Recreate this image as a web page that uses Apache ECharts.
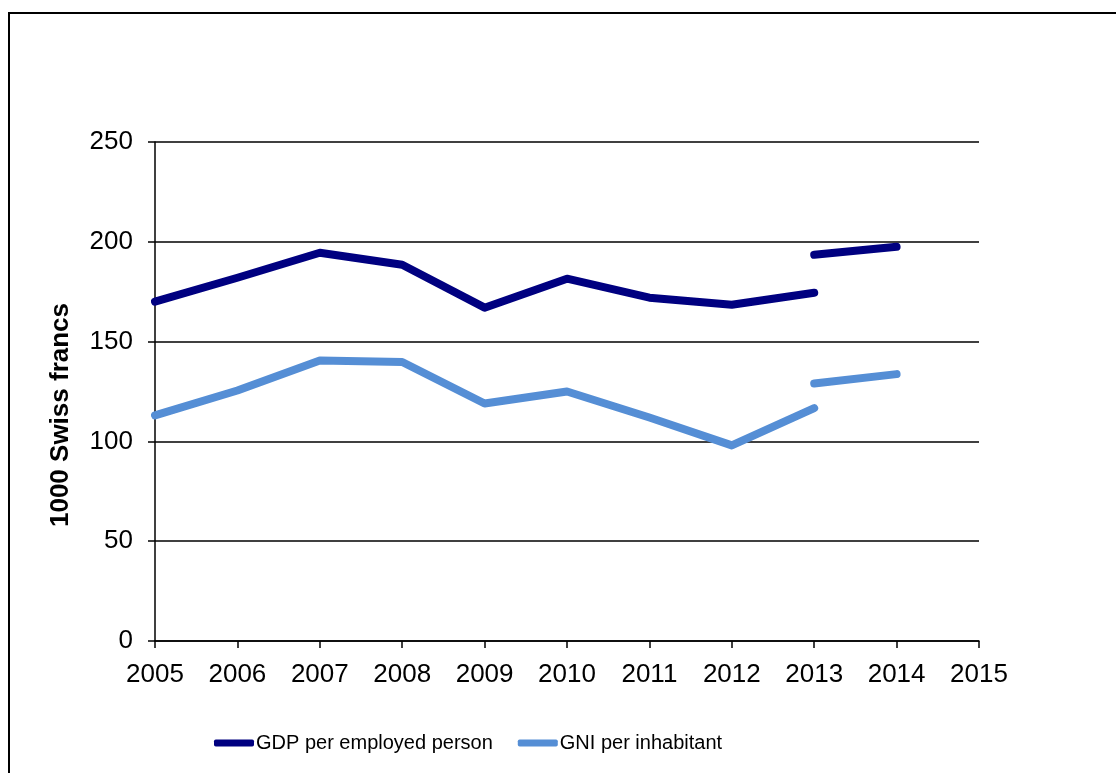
<!DOCTYPE html>
<html>
<head>
<meta charset="utf-8" />
<title>GDP / GNI</title>
<script src="https://cdn.jsdelivr.net/npm/echarts@6/dist/echarts.min.js"></script>
<style>
  html, body { margin: 0; padding: 0; background: #fff; }
  #main { width: 1116px; height: 773px; }
</style>
</head>
<body>
<div id="main"></div>
<script>
// 横轴年份
const years = ["2005", "2006", "2007", "2008", "2009", "2010", "2011", "2012", "2013", "2014", "2015"];
const yTicks = [0, 50, 100, 150, 200, 250];

// GDP per employed person (old series up to 2013, new series 2013-2014)
const gdpOld = [170, 182, 194.5, 188.5, 167, 181.5, 172, 168.5, 174.5, null, null];
const gdpNew = [null, null, null, null, null, null, null, null, 193.5, 197.5, null];

// GNI per inhabitant
const gniOld = [113, 125.5, 140.5, 139.8, 119, 125, 112, 98, 116.7, null, null];
const gniNew = [null, null, null, null, null, null, null, null, 129, 133.7, null];

const font = "'Liberation Sans', Arial, sans-serif";
const darkBlue = "#000080";
const lightBlue = "#558ED5";

function lineSeries(name, data, color) {
  return {
    name: name,
    type: "line",
    data: data,
    showSymbol: false,
    symbol: "none",
    connectNulls: false,
    silent: true,
    lineStyle: { color: color, width: 8, cap: "round", join: "round" },
    itemStyle: { color: color },
  };
}

const options = {
  animation: false,
  backgroundColor: "#fff",
  grid: {
    left: 155,
    right: 137,
    top: 142,
    bottom: 132,
  },
  legend: {
    left: 209,
    top: 728,
    data: ["GDP per employed person", "GNI per inhabitant"],
    icon: "roundRect",
    itemWidth: 40,
    itemHeight: 7,
    itemGap: 25,
    textStyle: {
      color: "#000",
      fontSize: 20,
      fontFamily: font,
      padding: [0, 0, 0, -3],
    },
  },
  xAxis: {
    type: "category",
    boundaryGap: false,
    data: years,
    axisLine: { show: true, lineStyle: { color: "#000", width: 1.5 } },
    axisTick: { show: true, length: 7, alignWithLabel: true, lineStyle: { color: "#000", width: 1.5 } },
    axisLabel: { color: "#000", fontSize: 26, fontFamily: font, margin: 21, interval: 0 },
    splitLine: { show: false },
  },
  yAxis: {
    type: "value",
    min: yTicks[0],
    max: yTicks[yTicks.length - 1],
    interval: 50,
    axisLine: { show: true, lineStyle: { color: "#000", width: 1.5 } },
    axisTick: { show: true, length: 7, lineStyle: { color: "#000", width: 1.5 } },
    axisLabel: { color: "#000", fontSize: 26, fontFamily: font, margin: 22 },
    splitLine: { show: true, lineStyle: { color: "#000", width: 1.6 } },
  },
  graphic: [
    {
      // 外框
      type: "rect",
      silent: true,
      shape: { x: 9, y: 13, width: 1200, height: 900 },
      style: { fill: "none", stroke: "#000", lineWidth: 2 },
    },
    {
      type: "text",
      silent: true,
      x: 61,
      y: 415,
      rotation: Math.PI / 2,
      style: {
        text: "1000 Swiss francs",
        font: "bold 26px " + font,
        fill: "#000",
        align: "center",
        verticalAlign: "middle",
      },
    },
  ],
  series: [
    lineSeries("GDP per employed person", gdpOld, darkBlue),
    lineSeries("GDP per employed person", gdpNew, darkBlue),
    lineSeries("GNI per inhabitant", gniOld, lightBlue),
    lineSeries("GNI per inhabitant", gniNew, lightBlue),
  ],
};

const chart = echarts.init(document.getElementById("main"));
chart.setOption(options);

window.addEventListener("resize", () => {
  chart.resize();
});
</script>
</body>
</html>
